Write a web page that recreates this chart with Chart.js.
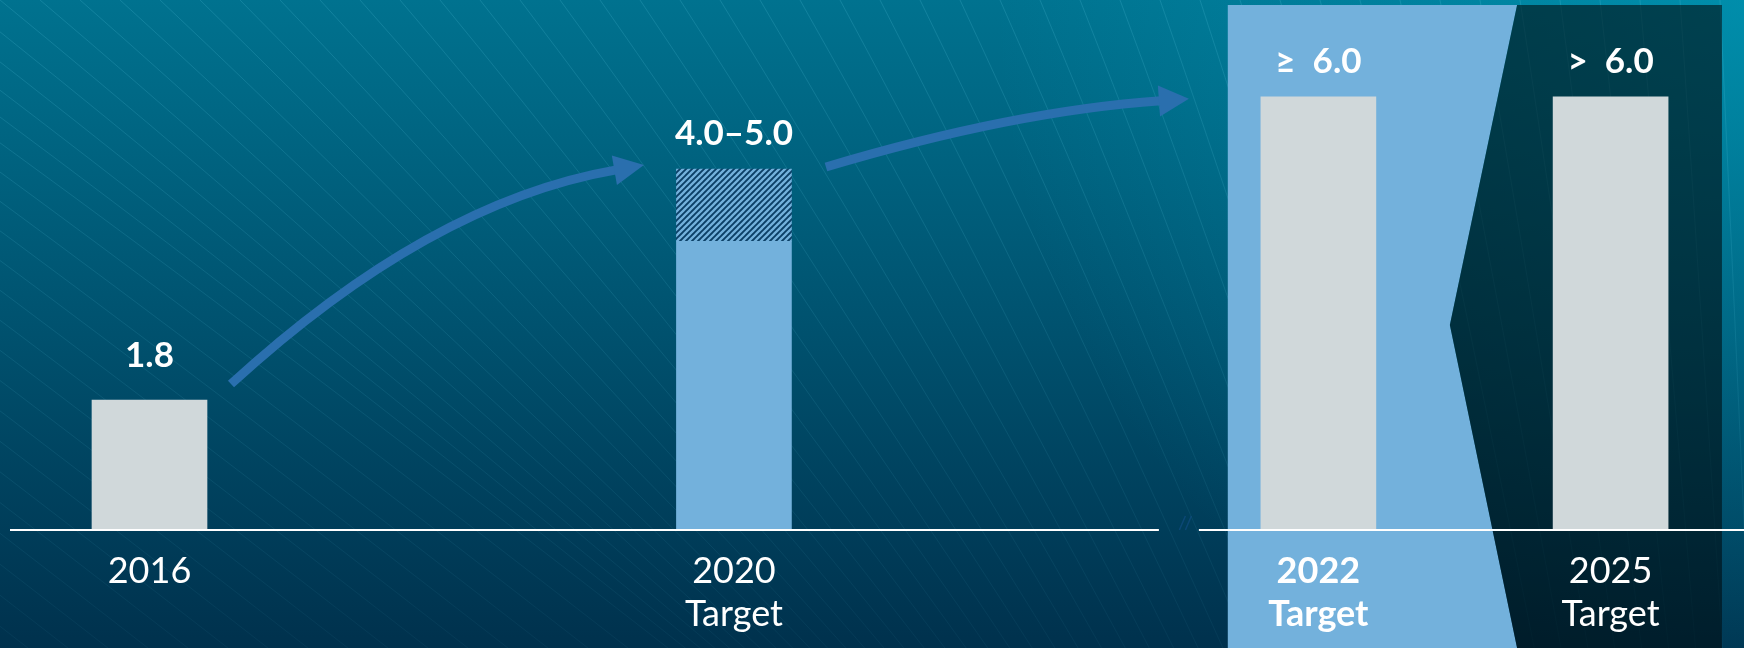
<!DOCTYPE html>
<html>
<head>
<meta charset="utf-8">
<script src="https://cdn.jsdelivr.net/npm/chart.js@4/dist/chart.umd.min.js"></script>
<style>
  html, body { margin: 0; padding: 0; background: #004a6a; overflow: hidden; }
  #wrap { width: 1744px; height: 648px; position: relative; }
  canvas { display: block; }
</style>
</head>
<body>
<div id="wrap"><canvas id="chart" width="1744" height="648"></canvas></div>
<script>
// ---------- DATA ----------
// blank slots keep the broken-axis spacing of the original
const years       = ['2016', '', '2020', '', '2022', '2025'];
const subtitles   = ['', '', 'Target', '', 'Target', 'Target'];
const values      = [1.8, null, 4.0, null, 6.0, 6.0];     // solid bars
const rangeLow    = [null, null, 4.0, null, null, null];  // hatched target range
const rangeHigh   = [null, null, 5.0, null, null, null];
const valueLabels = ['1.8', '', '4.0–5.0', '', '≥  6.0', '>  6.0'];
const boldTick    = [false, false, false, false, true, false];

// ---------- STYLE ----------
const FONT = 'Lato, "Open Sans", "DejaVu Sans", sans-serif';
const GRAY = '#d0d8da';
const LIGHT = '#73b1dc';
const ARROW = '#2a6fae';
const BAR_W = 115;

function makeHatch(ctx) {
  const s = 6, c = document.createElement('canvas');
  c.width = s; c.height = s;
  const x = c.getContext('2d');
  x.fillStyle = '#0b3f66'; x.fillRect(0, 0, s, s);
  x.strokeStyle = LIGHT; x.lineWidth = 2.3;
  x.beginPath();
  x.moveTo(-1, s + 1); x.lineTo(s + 1, -1);
  x.moveTo(-1, 1); x.lineTo(1, -1);
  x.moveTo(s - 1, s + 1); x.lineTo(s + 1, s - 1);
  x.stroke();
  return ctx.createPattern(c, 'repeat');
}

const canvas = document.getElementById('chart');
const ctx0 = canvas.getContext('2d');
const hatch = makeHatch(ctx0);

// background, texture lines and the two highlight panels
const backdrop = {
  id: 'backdrop',
  beforeDraw(chart) {
    const { ctx, width, height } = chart;
    const xs = chart.scales.x;
    ctx.save();
    let g = ctx.createLinearGradient(0, 0, 0, height);
    g.addColorStop(0, '#00728f');
    g.addColorStop(0.5, '#00526f');
    g.addColorStop(1, '#00314d');
    ctx.fillStyle = g; ctx.fillRect(0, 0, width, height);
    let r = ctx.createRadialGradient(width, 0, 0, width, 0, 750);
    r.addColorStop(0, 'rgba(0,175,205,0.45)');
    r.addColorStop(1, 'rgba(0,175,205,0)');
    ctx.fillStyle = r; ctx.fillRect(0, 0, width, height);

    // faint diagonal texture lines
    const lg = ctx.createLinearGradient(0, 0, 0, height);
    lg.addColorStop(0, 'rgba(90,200,225,0.2)');
    lg.addColorStop(1, 'rgba(90,200,225,0.05)');
    ctx.strokeStyle = lg; ctx.lineWidth = 1;
    for (let x0 = -1000; x0 < width + 40; x0 += 40) {
      const t = Math.max(0, Math.min(1, (x0 + 200) / (width + 200)));
      const ang = (35 + 53 * Math.pow(t, 1.1)) * Math.PI / 180;
      const dx = Math.cos(ang), dy = Math.sin(ang);
      ctx.beginPath();
      ctx.moveTo(x0, 0);
      ctx.quadraticCurveTo(x0 + dx * 500, dy * 500, x0 + dx * 1300 * 0.95, dy * 1300 * 1.02);
      ctx.stroke();
    }

    // panels
    const p4 = xs.getPixelForValue(4), p5 = xs.getPixelForValue(5);
    const slot = p5 - p4, mid = (p4 + p5) / 2;
    const top = 5, bot = height;
    const bTop = mid + 0.18 * slot, bMid = mid - 0.05 * slot, yMid = 325;
    ctx.fillStyle = LIGHT;
    ctx.beginPath();
    ctx.moveTo(p4 - 0.31 * slot, top);
    ctx.lineTo(bTop, top); ctx.lineTo(bMid, yMid); ctx.lineTo(bTop, bot);
    ctx.lineTo(p4 - 0.31 * slot, bot); ctx.closePath(); ctx.fill();
    ctx.fillStyle = 'rgba(0,10,14,0.58)';
    ctx.beginPath();
    ctx.moveTo(bTop, top); ctx.lineTo(p5 + 0.381 * slot, top);
    ctx.lineTo(p5 + 0.381 * slot, bot); ctx.lineTo(bTop, bot);
    ctx.lineTo(bMid, yMid); ctx.closePath(); ctx.fill();
    ctx.restore();
  }
};

function drawArrow(ctx, S, T, fx, fy, len, hw) {
  const C = { x: S.x + fx * (T.x - S.x), y: T.y + fy * (S.y - T.y) };
  const dx = T.x - C.x, dy = T.y - C.y, d = Math.hypot(dx, dy);
  const ux = dx / d, uy = dy / d;
  const B = { x: T.x - ux * len, y: T.y - uy * len };
  ctx.strokeStyle = ARROW; ctx.fillStyle = ARROW; ctx.lineWidth = 9; ctx.lineCap = 'butt';
  ctx.beginPath(); ctx.moveTo(S.x, S.y);
  ctx.quadraticCurveTo(C.x, C.y, B.x + ux * 2, B.y + uy * 2); ctx.stroke();
  ctx.beginPath(); ctx.moveTo(T.x, T.y);
  ctx.lineTo(B.x - uy * hw, B.y + ux * hw);
  ctx.lineTo(B.x + uy * hw, B.y - ux * hw);
  ctx.closePath(); ctx.fill();
}

// axis line, arrows and value labels
const overlay = {
  id: 'overlay',
  afterDatasetsDraw(chart) {
    const { ctx, width } = chart;
    const xs = chart.scales.x, ys = chart.scales.y;
    const y0 = ys.getPixelForValue(0);
    const p = i => xs.getPixelForValue(i);
    const half = BAR_W / 2;
    ctx.save();
    // broken baseline
    ctx.strokeStyle = '#ffffff'; ctx.lineWidth = 2;
    ctx.beginPath();
    ctx.moveTo(10, y0); ctx.lineTo(p(4) - 159.5, y0);
    ctx.moveTo(p(4) - 119.5, y0); ctx.lineTo(width, y0);
    ctx.stroke();
    // break marks
    ctx.strokeStyle = 'rgba(20,80,140,0.55)'; ctx.lineWidth = 1.5;
    const bx = p(4) - 133;
    ctx.beginPath();
    ctx.moveTo(bx - 6, y0); ctx.lineTo(bx, y0 - 14);
    ctx.moveTo(bx, y0); ctx.lineTo(bx + 6, y0 - 14);
    ctx.stroke();

    // arrows
    const top = i => ys.getPixelForValue(Math.max(values[i] ?? 0, rangeHigh[i] ?? 0));
    drawArrow(ctx, { x: p(0) + half + 24, y: top(0) - 16 },
                   { x: p(2) - half - 32.5, y: top(2) - 4 }, 0.48, 0.17, 30, 15);
    drawArrow(ctx, { x: p(2) + half + 34.5, y: top(2) - 2 },
                   { x: p(4) - half - 72, y: top(4) + 2 }, 0.515, 0.18, 30, 15.5);

    // value labels
    ctx.fillStyle = '#ffffff';
    ctx.font = 'bold 35px ' + FONT;
    ctx.textAlign = 'center'; ctx.textBaseline = 'alphabetic';
    valueLabels.forEach((t, i) => {
      if (!t) return;
      ctx.fillText(t, p(i), top(i) - (i === 0 ? 33 : 24));
    });
    ctx.restore();
  }
};

new Chart(canvas, {
  type: 'bar',
  data: {
    labels: years.map((y, i) => subtitles[i] ? [y, subtitles[i]] : y),
    datasets: [
      {
        label: 'Value',
        data: values,
        backgroundColor: c => (c.dataIndex === 2 ? LIGHT : GRAY),
        barThickness: BAR_W,
        borderWidth: 0,
        clip: false
      },
      {
        label: 'Target range',
        data: rangeLow.map((lo, i) => (lo == null ? null : [lo, rangeHigh[i]])),
        backgroundColor: hatch,
        barThickness: BAR_W,
        borderWidth: 0,
        clip: false
      }
    ]
  },
  options: {
    responsive: false,
    animation: false,
    devicePixelRatio: 1,
    layout: { padding: { left: 149.5, right: 133.4, top: 3, bottom: 0 } },
    datasets: { bar: { grouped: false } },
    plugins: { legend: { display: false }, tooltip: { enabled: false } },
    scales: {
      x: {
        type: 'category',
        offset: false,
        grid: { display: false, drawTicks: false },
        border: { display: false },
        ticks: {
          color: '#ffffff',
          padding: 20,
          autoSkip: false,
          maxRotation: 0,
          font: c => ({ family: FONT, size: 36, lineHeight: 1.2,
                        weight: boldTick[c.index] ? 'bold' : 'normal' })
        },
        afterFit: s => { s.height = 118; }
      },
      y: { display: false, min: 0, max: 7.3 }
    }
  },
  plugins: [backdrop, overlay]
});
</script>
</body>
</html>
